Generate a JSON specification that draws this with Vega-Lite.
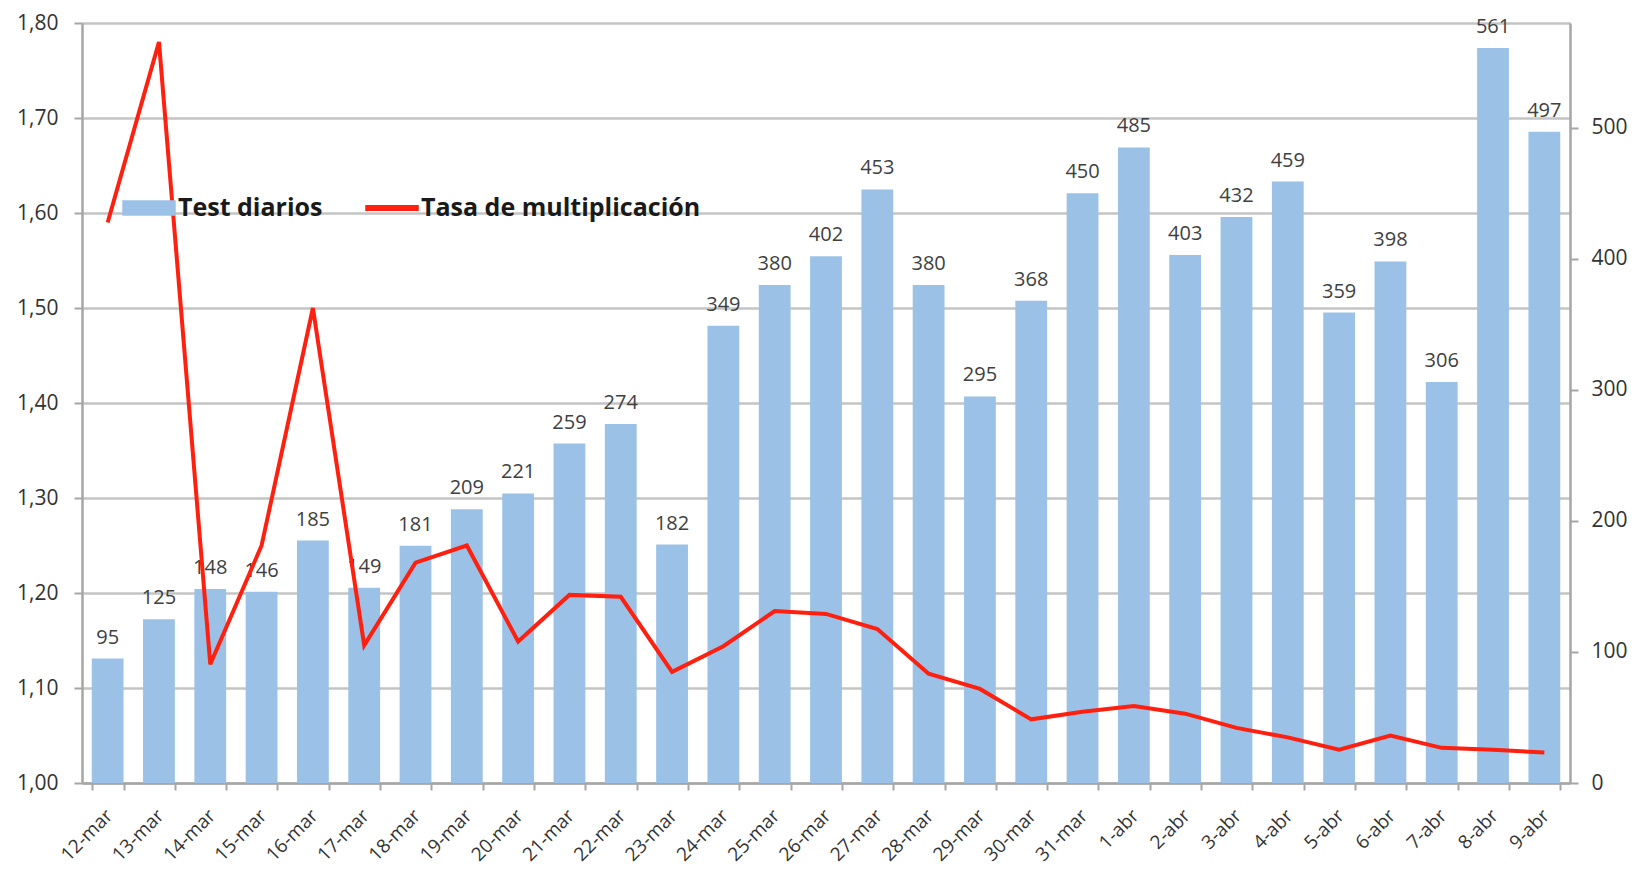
{
  "$schema": "https://vega.github.io/schema/vega-lite/v6.json",
  "width": 1488,
  "height": 760,
  "autosize": {"type": "none"},
  "padding": {"left": 82, "top": 23, "right": 66, "bottom": 89},
  "background": "white",
  "config": {"view": {"stroke": null}, "font": "Open Sans"},
  "data": {"values": [
    {"fecha": "12-mar", "tests": 95, "tasa": 1.59},
    {"fecha": "13-mar", "tests": 125, "tasa": 1.78},
    {"fecha": "14-mar", "tests": 148, "tasa": 1.125},
    {"fecha": "15-mar", "tests": 146, "tasa": 1.25},
    {"fecha": "16-mar", "tests": 185, "tasa": 1.5},
    {"fecha": "17-mar", "tests": 149, "tasa": 1.145},
    {"fecha": "18-mar", "tests": 181, "tasa": 1.232},
    {"fecha": "19-mar", "tests": 209, "tasa": 1.25},
    {"fecha": "20-mar", "tests": 221, "tasa": 1.149},
    {"fecha": "21-mar", "tests": 259, "tasa": 1.198},
    {"fecha": "22-mar", "tests": 274, "tasa": 1.196},
    {"fecha": "23-mar", "tests": 182, "tasa": 1.117},
    {"fecha": "24-mar", "tests": 349, "tasa": 1.144},
    {"fecha": "25-mar", "tests": 380, "tasa": 1.181},
    {"fecha": "26-mar", "tests": 402, "tasa": 1.178},
    {"fecha": "27-mar", "tests": 453, "tasa": 1.162},
    {"fecha": "28-mar", "tests": 380, "tasa": 1.115},
    {"fecha": "29-mar", "tests": 295, "tasa": 1.099},
    {"fecha": "30-mar", "tests": 368, "tasa": 1.067},
    {"fecha": "31-mar", "tests": 450, "tasa": 1.075},
    {"fecha": "1-abr", "tests": 485, "tasa": 1.081},
    {"fecha": "2-abr", "tests": 403, "tasa": 1.073},
    {"fecha": "3-abr", "tests": 432, "tasa": 1.058},
    {"fecha": "4-abr", "tests": 459, "tasa": 1.048},
    {"fecha": "5-abr", "tests": 359, "tasa": 1.035},
    {"fecha": "6-abr", "tests": 398, "tasa": 1.05},
    {"fecha": "7-abr", "tests": 306, "tasa": 1.037},
    {"fecha": "8-abr", "tests": 561, "tasa": 1.035},
    {"fecha": "9-abr", "tests": 497, "tasa": 1.032}
  ]},
  "encoding": {
    "x": {
      "field": "fecha", "type": "nominal", "sort": null, "title": null,
      "scale": {"paddingInner": 0.38, "paddingOuter": 0.19},
      "axis": {
        "labelAngle": -45, "labelFontSize": 19, "labelColor": "#333333",
        "labelFont": "Open Sans", "tickBand": "extent", "tickSize": 7,
        "tickColor": "#a6a6a6", "tickWidth": 2, "domainColor": "#a6a6a6",
        "domainWidth": 2.5, "labelPadding": 16, "labelOffset": -5, "grid": false
      }
    }
  },
  "layer": [
    {
      "layer": [
        {
          "mark": {"type": "bar"},
          "encoding": {
            "y": {
              "field": "tests", "type": "quantitative", "title": null,
              "scale": {"domain": [0, 580], "nice": false},
              "axis": {
                "orient": "right", "values": [0, 100, 200, 300, 400, 500],
                "grid": false, "tickSize": 8, "tickColor": "#a6a6a6", "tickWidth": 2,
                "domainColor": "#a6a6a6", "domainWidth": 2.5, "labelPadding": 13,
                "labelFontSize": 21, "labelColor": "#333333", "labelFont": "Open Sans"
              }
            },
            "color": {
              "datum": "Test diarios", "type": "nominal",
              "scale": {"domain": ["Test diarios", "Tasa de multiplicación"], "range": ["#9bc2e6", "#ff2010"]},
              "legend": {
                "orient": "none", "legendX": 40, "legendY": 158, "direction": "horizontal",
                "title": null, "symbolSize": 2704, "labelFont": "Open Sans",
                "labelFontWeight": "bold", "labelFontSize": 25, "labelColor": "#1a1a1a",
                "labelOffset": 2, "labelLimit": 500, "columnPadding": 40, "padding": 0,
                "encode": {
                  "symbols": {
                    "update": {
                      "shape": {"signal": "datum.label === 'Test diarios' ? 'M-1,-0.27H1V0.27H-1Z' : 'M-1,-0.09H1V0.09H-1Z'"},
                      "fill": {"signal": "datum.label === 'Test diarios' ? '#9bc2e6' : '#ff2010'"},
                      "stroke": {"value": "transparent"},
                      "opacity": {"value": 1},
                      "fillOpacity": {"value": 1}
                    }
                  }
                }
              }
            }
          }
        },
        {
          "mark": {"type": "text", "dy": -15, "baseline": "alphabetic", "align": "center", "fontSize": 20, "color": "#404040", "font": "Open Sans"},
          "encoding": {
            "y": {"field": "tests", "type": "quantitative", "title": null},
            "text": {"field": "tests", "type": "quantitative"}
          }
        }
      ]
    },
    {
      "mark": {"type": "line", "strokeWidth": 4, "strokeJoin": "miter"},
      "encoding": {
        "y": {
          "field": "tasa", "type": "quantitative", "title": null,
          "scale": {"domain": [1, 1.8], "nice": false, "zero": false},
          "axis": {
            "orient": "left", "values": [1, 1.1, 1.2, 1.3, 1.4, 1.5, 1.6, 1.7, 1.8],
            "labelExpr": "replace(format(datum.value, '.2f'), '.', ',')",
            "grid": true, "gridColor": "#c4c4c4", "gridWidth": 2.5,
            "tickSize": 8, "tickColor": "#a6a6a6", "tickWidth": 2,
            "domainColor": "#a6a6a6", "domainWidth": 2.5, "labelPadding": 16,
            "labelFontSize": 21, "labelColor": "#333333", "labelFont": "Open Sans"
          }
        },
        "color": {"datum": "Tasa de multiplicación", "type": "nominal"}
      }
    }
  ],
  "resolve": {"scale": {"y": "independent"}}
}
